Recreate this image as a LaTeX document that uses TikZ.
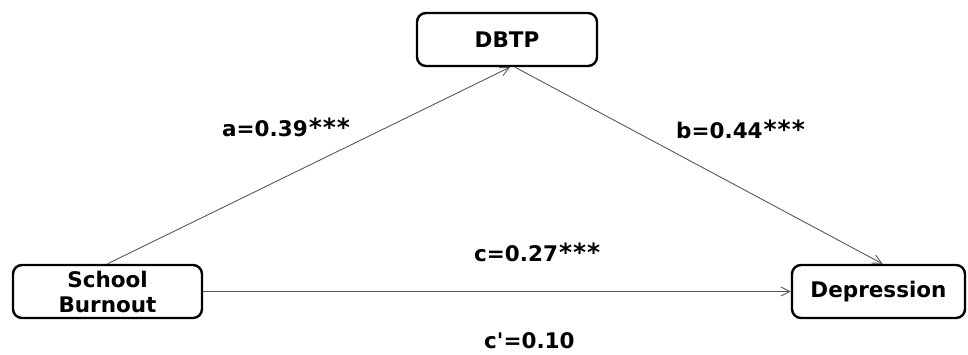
\documentclass[tikz,border=0pt]{standalone}
\usepackage{fontspec}
\setmainfont{DejaVu Sans}
\usetikzlibrary{arrows.meta}
\newcommand{\stars}{{\fontsize{25}{25}\selectfont\kern1pt*\kern1pt*\kern1pt*}}
\begin{document}
\begin{tikzpicture}[x=1pt,y=-1pt,
  box/.style={draw=black,line width=2.4pt,rounded corners=9pt,fill=white,
    minimum height=53pt,inner sep=0pt,align=center,
    font=\fontsize{21.5}{25}\selectfont\bfseries},
  conn/.style={draw=black!65,line width=0.9pt,-{Straight Barb[length=9pt,width=9pt]}},
  lab/.style={inner sep=0pt,anchor=west,font=\fontsize{21.5}{24}\selectfont\bfseries}]
\useasboundingbox (0,0) rectangle (968,354);
\node[box,minimum width=180pt] (dbtp) at (507,39.5) {DBTP};
\node[box,minimum width=189pt] (sb) at (107.5,291.5) {School\\Burnout};
\node[box,minimum width=173pt] (dep) at (878.5,291.5) {Depression};
\draw[conn] (sb.north) -- ([xshift=3pt]dbtp.south);
\draw[conn] ([xshift=8pt]dbtp.south) -- ([xshift=4pt]dep.north);
\draw[conn] (sb.east) -- (dep.west);
\node[lab] (la) at (222,127) {a=0.39\stars};
\node[lab] (lb) at (676,129) {b=0.44\stars};
\node[lab] (lc) at (474,252) {c=0.27\stars};
\node[lab] (lcp) at (484,341) {c\textquotesingle=0.10};
\end{tikzpicture}
\end{document}
